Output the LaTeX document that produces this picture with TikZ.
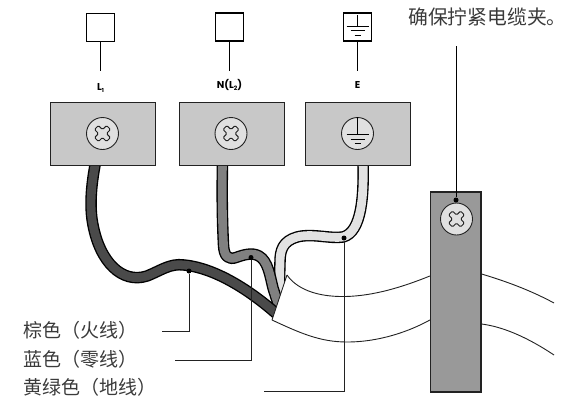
\documentclass[tikz,border=0pt]{standalone}
\usepackage{fontspec}
\usetikzlibrary{calc}
\setmainfont{Poppins}
\newfontfamily\cjk{Noto Sans CJK SC}
\definecolor{boxgray}{HTML}{C8C8C8}
\definecolor{headgray}{HTML}{E0E0E0}
\definecolor{clampgray}{HTML}{999999}
\definecolor{wirebrown}{HTML}{4A4A4A}
\definecolor{wireblue}{HTML}{808080}
\definecolor{wiregreen}{HTML}{E2E2E2}
\definecolor{inkc}{HTML}{222222}
\definecolor{textc}{HTML}{3A3A3A}
\tikzset{
  term/.style={draw=inkc,line width=0.9pt,fill=boxgray,minimum width=105pt,minimum height=63pt,inner sep=0pt},
  clampbar/.style={draw=inkc,line width=1.2pt,fill=clampgray,minimum width=50.5pt,minimum height=200pt,inner sep=0pt},
  head/.style={circle,draw=inkc,line width=0.9pt,fill=headgray,minimum size=32pt,inner sep=0pt},
  sq/.style={draw=black,line width=1.1pt,fill=white,minimum size=28pt,inner sep=0pt},
  stem/.style={draw=black,line width=1pt},
  lead/.style={draw=inkc,line width=0.9pt},
  cablel/.style={draw=inkc,line width=0.9pt},
  pin/.style={circle,fill=black,minimum size=5pt,inner sep=0pt},
  tag/.style={font=\bfseries\fontsize{10}{11}\selectfont,inner sep=0pt},
  cn/.style={font=\cjk\fontsize{19}{21}\selectfont,text=textc,inner sep=0pt,anchor=west},
}
\newcommand{\crosshead}[1]{%
  \begin{scope}[shift={(#1)},rotate=45]
    \draw[inkc,line width=1pt,fill=headgray,rounded corners=1.2pt]
      (-2.8,-8.5)--(2.8,-8.5)--(2.8,-2.8)--(8.5,-2.8)--(8.5,2.8)--(2.8,2.8)--(2.8,8.5)--(-2.8,8.5)--(-2.8,2.8)--(-8.5,2.8)--(-8.5,-2.8)--(-2.8,-2.8)--cycle;
  \end{scope}}
\newcommand{\earthsym}[3]{%
  \begin{scope}[shift={(#1)}]
    \draw[black,line width=0.9pt] (0,-#2)--(0,0) (-#2,0)--(#2,0) (-#3,4.5)--(#3,4.5) (-3,9)--(3,9);
  \end{scope}}
\newcommand{\wire}[2]{%
  \draw[black,line width=11.5pt,line join=round] #1;
  \draw[#2,line width=8.8pt,line join=round] #1;}
\begin{document}
\begin{tikzpicture}[x=1pt,y=-1pt]
\useasboundingbox (0,0) rectangle (576,400);

% wires
\coordinate (bstart) at (96,160);
\coordinate (nstart) at (222.5,160);
\coordinate (estart) at (363,160);
\coordinate (bend) at (279,316);
\coordinate (nend) at (280,310);
\coordinate (eend) at (279,298);
\wire{(estart) .. controls (364,195) and (362,232) .. (343,237) .. controls (330,239) and (312,233) .. (297,237) .. controls (283,241) and (280,250) .. (280,262) -- (eend)}{wiregreen}
\wire{(nstart) .. controls (222,190) and (222,215) .. (223.5,245) .. controls (224,257) and (229,260) .. (236,257.5) .. controls (243,255) and (252,252) .. (259,256) .. controls (268,261) and (270,276) .. (273,288) -- (nend)}{wireblue}
\wire{(bstart) .. controls (90,190) and (90,210) .. (93,225) .. controls (100,262) and (122,284) .. (147,276) .. controls (160,271) and (170,263) .. (184,265) .. controls (215,268) and (250,290) .. (bend)}{wirebrown}

\node[term] (t1) at (102.5,133.5) {};
\node[term] (t2) at (231.5,133.5) {};
\node[term] (t3) at (357.5,133.5) {};

% cable sheath
\coordinate (sa) at (287,275);
\coordinate (sb) at (272,320);
\fill[white] (sa)--(sb)--(288,332)--(300,332)--(300,277)--cycle;
\draw[cablel] (sb)--(sa);
\node[clampbar] (cl) at (455.75,292) {};
\draw[cablel] (sa) .. controls (296,288) and (315,297) .. (345,296.5) .. controls (375,296) and (405,286) .. (cl.west |- 0,276);
\draw[cablel] (sb) .. controls (300,333) and (320,342) .. (347,342) .. controls (380,342) and (410,331) .. (cl.west |- 0,320);
\draw[cablel] (cl.east |- 0,274) .. controls (505,281) and (530,290) .. (554,303);
\draw[cablel] (cl.east |- 0,324) .. controls (505,327) and (530,339) .. (554,355);

% clamp screw
\node[head] (s4) at (456.5,219) {};
\crosshead{s4}

% screws
\node[head] (s1) at (102.5,133.5) {};
\node[head] (s2) at (231,133.5) {};
\node[head] (s3) at (357.5,133.5) {};
\crosshead{s1}
\crosshead{s2}
\earthsym{$(s3)+(0,1)$}{11}{7}
\draw[black,line width=0.9pt] (s3.north)--(s3.center);

% top symbols
\node[sq] (q1) at (100.5,27.5) {};
\node[sq] (q2) at (229.5,27) {};
\node[sq] (q3) at (357.5,27) {};
\earthsym{$(q3)+(0,-1)$}{11}{7}
\coordinate (q1e) at (100.5,71);
\coordinate (q2e) at (229.5,71);
\coordinate (q3e) at (357.5,71);
\draw[stem] (q1.south)--(q1e);
\draw[stem] (q2.south)--(q2e);
\draw[stem] (q3.south)--(q3e);

\node[tag] (l1) at (100.5,88) {L\raisebox{-1.5pt}{\fontsize{5.5}{5}\selectfont 1}};
\node[tag] (l2) at (229.5,85) {N(L\raisebox{-1.5pt}{\fontsize{6}{5}\selectfont 2})};
\node[tag] (l3) at (357.5,85) {E};

% texts
\node[cn,font=\cjk\fontsize{19.8}{21}\selectfont] (tc) at (408,17) {确保拧紧电缆夹。};
\node[cn] (tb) at (23,330) {棕色（火线）};
\node[cn] (tn) at (23,359) {蓝色（零线）};
\node[cn] (te) at (23,387.5) {黄绿色（地线）};

% leaders
\coordinate (cs) at (456,46);
\node[pin] (pc) at (456,200) {};
\draw[line width=0.9pt] (cs)--(pc);
\node[pin] (pb) at (189,271) {};
\coordinate (lb) at (162,331);
\draw[lead] (pb)--(pb |- lb)--(lb);
\node[pin] (pn) at (251,257.5) {};
\coordinate (ln) at (175,360.5);
\draw[lead] (pn)--(pn |- ln)--(ln);
\node[pin] (pe) at (344,238) {};
\coordinate (le) at (264,391);
\draw[lead] (pe)--(pe |- le)--(le);
\end{tikzpicture}
\end{document}
